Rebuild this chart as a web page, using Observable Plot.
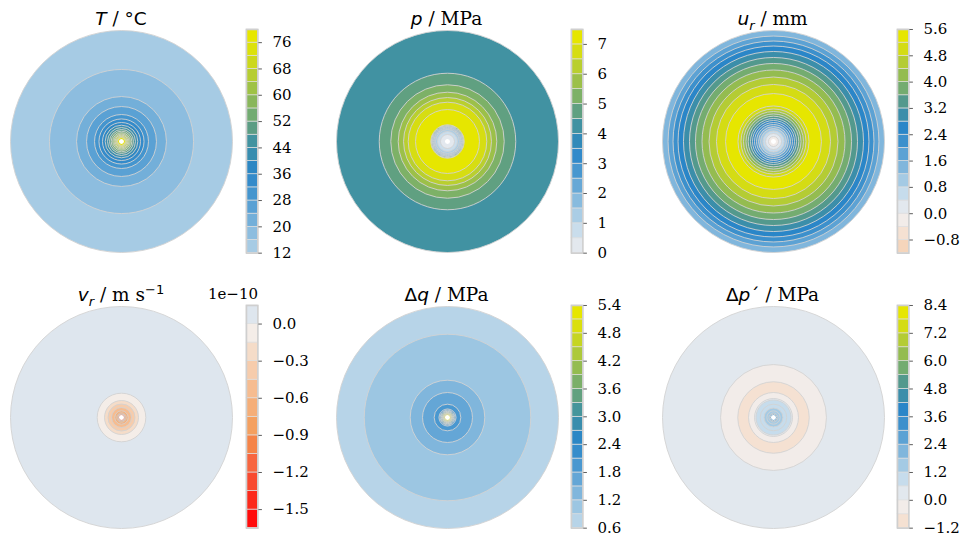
<!DOCTYPE html>
<html><head><meta charset="utf-8">
<script src="https://cdn.jsdelivr.net/npm/d3@7"></script>
<script src="https://cdn.jsdelivr.net/npm/@observablehq/plot@0.6"></script>
<style>
body{margin:0;background:#fff;}
#fig{position:relative;width:961px;height:541px;overflow:hidden;font-family:"DejaVu Serif",serif;color:#000;}
.title{position:absolute;width:260px;text-align:center;font-size:18.5px;line-height:22px;white-space:nowrap;}
.m{font-family:"DejaVu Sans",sans-serif;font-style:italic;}
.s{font-family:"DejaVu Sans",sans-serif;}
.abs{position:absolute;}
sub,sup{font-size:13px;line-height:0;}
</style></head><body><div id="fig"></div>
<script>
// ---------------- DATA ----------------
// Temperature T / °C
const T_levels = [12,16,20,24,28,32,36,40,44,48,52,56,60,64,68,72,76,80];
const T_ticks = [12,20,28,36,44,52,60,68,76];
const T_tickLabels = ["12","20","28","36","44","52","60","68","76"];
const T_ringRadius = [1.000,0.649,0.405,0.315,0.243,0.203,0.171,0.147,0.126,0.108,0.093,0.079,0.068,0.058,0.049,0.041,0.035];
const T_ringValue  = [14,18,22,26,30,34,38,42,46,50,54,58,62,66,70,74,78];

// Pore pressure p / MPa
const p_levels = [0,0.5,1,1.5,2,2.5,3,3.5,4,4.5,5,5.5,6,6.5,7,7.5];
const p_ticks = [0,1,2,3,4,5,6,7];
const p_tickLabels = ["0","1","2","3","4","5","6","7"];
const p_ringRadius = [1.000,0.615,0.511,0.444,0.396,0.354,0.288,0.150,0.147,0.144,0.141,0.139,0.136,0.133,0.131,0.127,0.123,0.117,0.108,0.090,0.063];
const p_ringValue  = [4.25,4.75,5.25,5.75,6.25,6.75,7.25,6.75,6.25,5.75,5.25,4.75,4.25,3.75,3.25,2.75,2.25,1.75,1.25,0.75,0.25];

// Radial displacement u_r / mm
const ur_levels = [-1.2,-0.8,-0.4,0,0.4,0.8,1.2,1.6,2.0,2.4,2.8,3.2,3.6,4.0,4.4,4.8,5.2,5.6];
const ur_ticks = [-0.8,0,0.8,1.6,2.4,3.2,4.0,4.8,5.6];
const ur_tickLabels = ["−0.8","0.0","0.8","1.6","2.4","3.2","4.0","4.8","5.6"];
const ur_ringRadius = [1.000,0.950,0.905,0.860,0.811,0.757,0.703,0.644,0.581,0.514,0.432,0.320,0.293,0.270,0.248,0.228,0.207,0.189,0.171,0.153,0.135,0.117,0.095,0.072,0.045];
const ur_ringValue  = [1.4,1.8,2.2,2.6,3.0,3.4,3.8,4.2,4.6,5.0,5.4,5.0,4.6,4.2,3.8,3.4,3.0,2.6,2.2,1.8,1.4,1.0,0.6,0.2,-0.2];

// Radial velocity v_r / m s^-1 (×1e-10)
const vr_levels = [-1.65,-1.5,-1.35,-1.2,-1.05,-0.9,-0.75,-0.6,-0.45,-0.3,-0.15,0,0.15];
const vr_ticks = [0,-0.3,-0.6,-0.9,-1.2,-1.5];
const vr_tickLabels = ["0.0","−0.3","−0.6","−0.9","−1.2","−1.5"];
const vr_ringRadius = [1.000,0.219,0.153,0.122,0.090,0.060,0.042,0.032,0.027];
const vr_ringValue  = [0.075,-0.075,-0.225,-0.375,-0.525,-0.675,-0.825,-0.975,-1.125];

// Δq / MPa
const dq_levels = [0.6,0.9,1.2,1.5,1.8,2.1,2.4,2.7,3.0,3.3,3.6,3.9,4.2,4.5,4.8,5.1,5.4];
const dq_ticks = [0.6,1.2,1.8,2.4,3.0,3.6,4.2,4.8,5.4];
const dq_tickLabels = ["0.6","1.2","1.8","2.4","3.0","3.6","4.2","4.8","5.4"];
const dq_ringRadius = [1.000,0.750,0.336,0.225,0.120,0.077,0.068,0.061,0.055,0.050,0.045,0.041,0.037,0.033,0.029,0.026];
const dq_ringValue  = [0.75,1.05,1.35,1.65,1.95,2.25,2.55,2.85,3.15,3.45,3.75,4.05,4.35,4.65,4.95,5.25];

// Δp´ / MPa
const dp_levels = [-1.2,-0.6,0,0.6,1.2,1.8,2.4,3.0,3.6,4.2,4.8,5.4,6.0,6.6,7.2,7.8,8.4];
const dp_ticks = [-1.2,0,1.2,2.4,3.6,4.8,6.0,7.2,8.4];
const dp_tickLabels = ["−1.2","0.0","1.2","2.4","3.6","4.8","6.0","7.2","8.4"];
const dp_ringRadius = [1.000,0.477,0.322,0.225,0.171,0.158,0.120,0.085,0.060,0.040,0.030];
const dp_ringValue  = [0.3,-0.3,-0.9,-0.3,0.3,0.9,0.9,1.5,1.5,2.1,2.7];

const holeRadius = 0.0225; // borehole, relative to domain radius

// ---------------- STYLE ----------------
const cmapStops = [
 [-1.0,"#ff0808"],[-0.955,"#ff0c0c"],[-0.864,"#fb2a1c"],[-0.773,"#f84a30"],[-0.682,"#f76640"],
 [-0.591,"#f58448"],[-0.5,"#f4a060"],[-0.409,"#f5ae78"],[-0.318,"#f6bc90"],[-0.227,"#f6ccac"],
 [-0.136,"#f5dcc8"],[-0.045,"#f4ede8"],[0.036,"#e2e8ee"],[0.107,"#c6dcec"],[0.179,"#a4cae4"],
 [0.25,"#80b6dc"],[0.321,"#5ca2d4"],[0.393,"#3c90cc"],[0.464,"#2a86c8"],[0.536,"#3b8eaa"],
 [0.575,"#4293a0"],[0.62,"#5a9c86"],[0.679,"#74ac70"],[0.75,"#94bc50"],[0.821,"#b4cc34"],
 [0.893,"#d4dc14"],[0.964,"#e6e600"],[1.0,"#e8e800"]
];
const cmap = d3.scaleLinear().domain(cmapStops.map(d=>d[0])).range(cmapStops.map(d=>d[1]))
  .interpolate(d3.interpolateRgb).clamp(true);

const R = 111;          // disc radius in px
const BAR_W = 11.4;     // colorbar width in px
const rowTop = [29.3, 305.3];
const rowH = [223.7, 222.7];
const colCx = [121, 446.5, 772.5];
const barLeft = [245.6, 571.4, 896.8];

const panels = [
  {levels:T_levels, ticks:T_ticks, labels:T_tickLabels, rr:T_ringRadius, rv:T_ringValue, row:0, col:0,
   title:'<span class="m">T</span> / <span class="s">°C</span>'},
  {levels:p_levels, ticks:p_ticks, labels:p_tickLabels, rr:p_ringRadius, rv:p_ringValue, row:0, col:1,
   title:'<span class="m">p</span> / MPa'},
  {levels:ur_levels, ticks:ur_ticks, labels:ur_tickLabels, rr:ur_ringRadius, rv:ur_ringValue, row:0, col:2,
   title:'<span class="m">u<sub>r</sub></span> / mm'},
  {levels:vr_levels, ticks:vr_ticks, labels:vr_tickLabels, rr:vr_ringRadius, rv:vr_ringValue, row:1, col:0,
   title:'<span class="m">v<sub>r</sub></span> / m s<sup class="s">−1</sup>', offset:"1e−10"},
  {levels:dq_levels, ticks:dq_ticks, labels:dq_tickLabels, rr:dq_ringRadius, rv:dq_ringValue, row:1, col:1,
   title:'<span class="s">Δ</span><span class="m">q</span> / MPa'},
  {levels:dp_levels, ticks:dp_ticks, labels:dp_tickLabels, rr:dp_ringRadius, rv:dp_ringValue, row:1, col:2,
   title:'<span class="s">Δ</span><span class="m">p</span><span class="s">´</span> / MPa'}
];

const fig = document.getElementById("fig");

function colorOptions(P){
  const vmax = Math.max(Math.abs(P.levels[0]), Math.abs(P.levels[P.levels.length-1]));
  const bands = d3.pairs(P.levels).map(([a,b]) => cmap(((a+b)/2)/vmax));
  return {type:"threshold", domain:P.levels.slice(1,-1), range:bands};
}

function place(node, left, top){
  node.style.position = "absolute";
  node.style.left = left + "px";
  node.style.top = top + "px";
  fig.appendChild(node);
}

panels.forEach(P => {
  const cx = colCx[P.col];
  const cy = rowTop[P.row] + rowH[P.row]/2;
  const color = colorOptions(P);
  const rings = P.rr.map((r,i) => ({r, v:P.rv[i]}));

  // disc of filled contour bands
  const size = 2*R + 6;
  const disc = Plot.plot({
    width:size, height:size, margin:0,
    r:{type:"linear", domain:[0,1], range:[0,R]},
    color,
    marks:[
      Plot.dot(rings, {r:"r", fill:"v", stroke:"#d2d2d2", strokeWidth:0.9, frameAnchor:"middle"}),
      Plot.dot([holeRadius], {r:d=>d, fill:"white", frameAnchor:"middle"})
    ]
  });
  place(disc, cx - size/2, cy - size/2);

  // colorbar
  const L = P.levels;
  const bands = d3.pairs(L).map(([a,b]) => ({a, b, v:(a+b)/2}));
  const mt = 10, mb = 10, ml = 4, mr = 62;
  const cb = Plot.plot({
    width: ml + BAR_W + mr, height: rowH[P.row] + mt + mb,
    marginTop:mt, marginBottom:mb, marginLeft:ml, marginRight:mr,
    y:{domain:[L[0], L[L.length-1]]},
    color,
    style:{fontFamily:"DejaVu Serif", fontSize:"15px", color:"#000", background:"transparent"},
    marks:[
      Plot.barY(bands, {y1:"a", y2:"b", fill:"v", stroke:"#dedede", strokeWidth:0.7}),
      Plot.frame({stroke:"#cfcfcf", strokeWidth:1.6}),
      Plot.axisY({anchor:"right", ticks:P.ticks, tickSize:3.5, tickPadding:11, label:null,
        stroke:"#333", strokeWidth:0.8, fontSize:15,
        tickFormat: d => P.labels[P.ticks.findIndex(t => Math.abs(t-d) < 1e-9)]})
    ]
  });
  place(cb, barLeft[P.col] - ml, rowTop[P.row] - mt);

  // title
  const t = document.createElement("div");
  t.className = "title";
  t.innerHTML = P.title;
  t.style.left = (cx - 130) + "px";
  t.style.top = (P.row === 0 ? 7.6 : 283.6) + "px";
  fig.appendChild(t);

  if (P.offset){
    const o = document.createElement("div");
    o.className = "abs";
    o.style.fontSize = "15px";
    o.style.lineHeight = "18px";
    o.style.right = (961 - (barLeft[P.col] + BAR_W + 1)) + "px";
    o.style.top = (rowTop[P.row] - 20) + "px";
    o.textContent = P.offset;
    fig.appendChild(o);
  }
});
</script>
</body></html>
